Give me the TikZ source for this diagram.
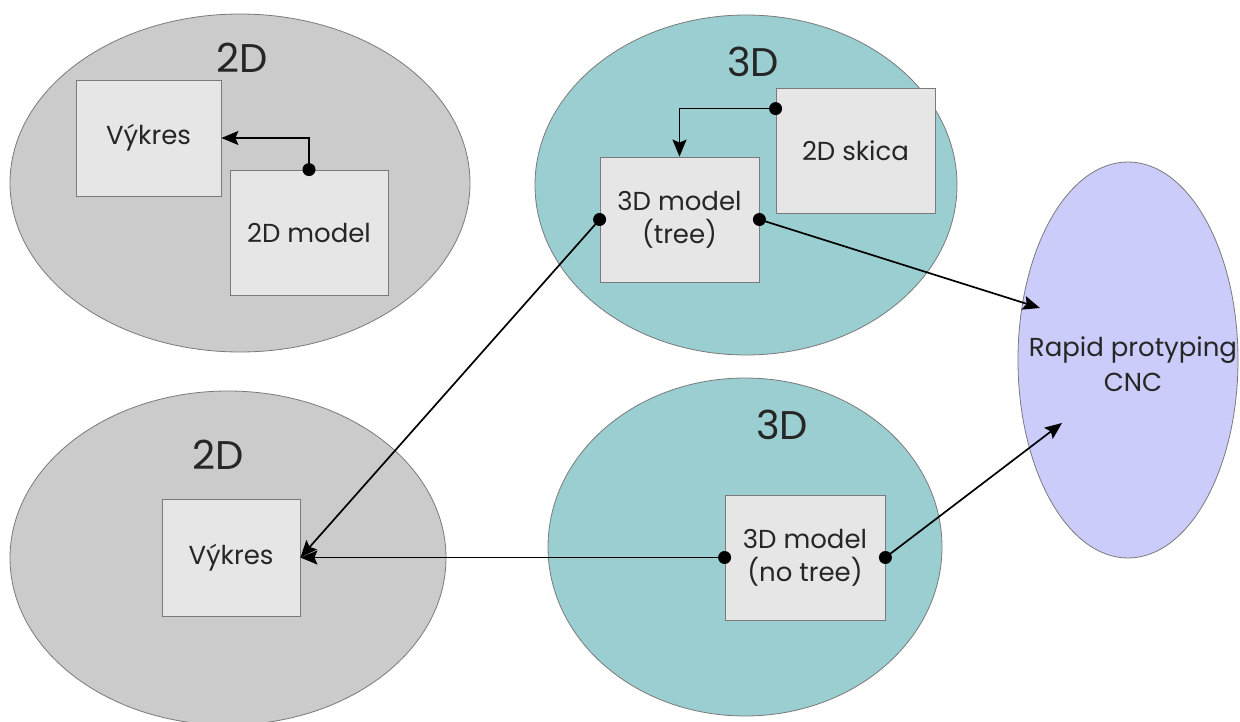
\documentclass[tikz,border=0pt]{standalone}
\usepackage{fontspec}
\setmainfont{Poppins}
\usetikzlibrary{shapes.geometric,arrows.meta,calc}
\definecolor{greyfill}{HTML}{CBCBCB}
\definecolor{tealfill}{HTML}{9ACED0}
\definecolor{lilacfill}{HTML}{CCCCFA}
\definecolor{boxfill}{HTML}{E6E6E6}
\definecolor{edge}{HTML}{7A7A7A}
\begin{document}
\begin{tikzpicture}[x=1pt,y=-1pt,
  zone/.style={ellipse,draw=edge,line width=0.8pt,inner sep=0pt},
  title/.style={font=\fontsize{40}{42}\selectfont,text=black!85},
  box/.style={draw=edge,fill=boxfill,line width=0.8pt,inner sep=0pt,align=center,
    font=\fontsize{26}{33}\selectfont,text=black!85},
  link/.style={line width=1.7pt,-{Stealth[length=17pt,width=14pt,inset=3pt]}},
  dot/.style={circle,fill=black,inner sep=0pt,minimum size=13pt}]
\useasboundingbox (0,0) rectangle (1240,722);

% regions
\node[zone,fill=greyfill,minimum width=460pt,minimum height=338pt] (z2dtop) at (240,183) {};
\node[zone,fill=tealfill,minimum width=422pt,minimum height=340pt] (z3dtop) at (746,185) {};
\node[zone,fill=lilacfill,minimum width=220pt,minimum height=396pt] (rp) at (1128,360) {};
\node[zone,fill=greyfill,minimum width=436pt,minimum height=334pt] (z2dbot) at (228,558) {};
\node[zone,fill=tealfill,minimum width=394pt,minimum height=338pt] (z3dbot) at (745,547) {};

% region titles
\node[title] (t2dtop) at (242,58) {2D};
\node[title] (t3dtop) at (753,62) {3D};
\node[title] (t2dbot) at (218,455) {2D};
\node[title] (t3dbot) at (782,425) {3D};
\node[align=center,inner sep=0pt,font=\fontsize{26}{35}\selectfont,text=black!85]
  (rptext) at (1133,364) {Rapid protyping\\CNC};

% boxes
\node[box,minimum width=145pt,minimum height=116pt] (vyk1) at (148.5,138) {Výkres};
\node[box,minimum width=158pt,minimum height=125pt] (m2d) at (309,232.5) {2D model};
\node[box,minimum width=159pt,minimum height=125pt] (skica) at (855.5,150.5) {2D skica};
\node[box,minimum width=159pt,minimum height=125pt] (m3dt) at (679.5,219.5) {3D model\\(tree)};
\node[box,minimum width=138pt,minimum height=117pt] (vyk2) at (231,557.5) {Výkres};
\node[box,minimum width=160pt,minimum height=125pt] (m3dn) at (805,557.5) {3D model\\(no tree)};

% free ends inside the CNC region
\coordinate (rpin1) at (1040,308);
\coordinate (rpin2) at (1062,423);
\coordinate (skout) at ($(skica.north west)+(0,21)$);

% connectors
\draw[link] (m2d.north) |- (vyk1.east);
\draw[link] (skout) -| (m3dt.north);
\draw[link] (m3dt.east) -- (rpin1);
\draw[link] (m3dt.west) -- (vyk2.east);
\draw[link] (m3dn.west) -- (vyk2.east);
\draw[link] (m3dn.east) -- (rpin2);

% connection dots
\node[dot] (d1) at (m2d.north) {};
\node[dot] (d2) at (skout) {};
\node[dot] (d3) at (m3dt.west) {};
\node[dot] (d4) at (m3dt.east) {};
\node[dot] (d5) at (m3dn.west) {};
\node[dot] (d6) at (m3dn.east) {};
\end{tikzpicture}
\end{document}
